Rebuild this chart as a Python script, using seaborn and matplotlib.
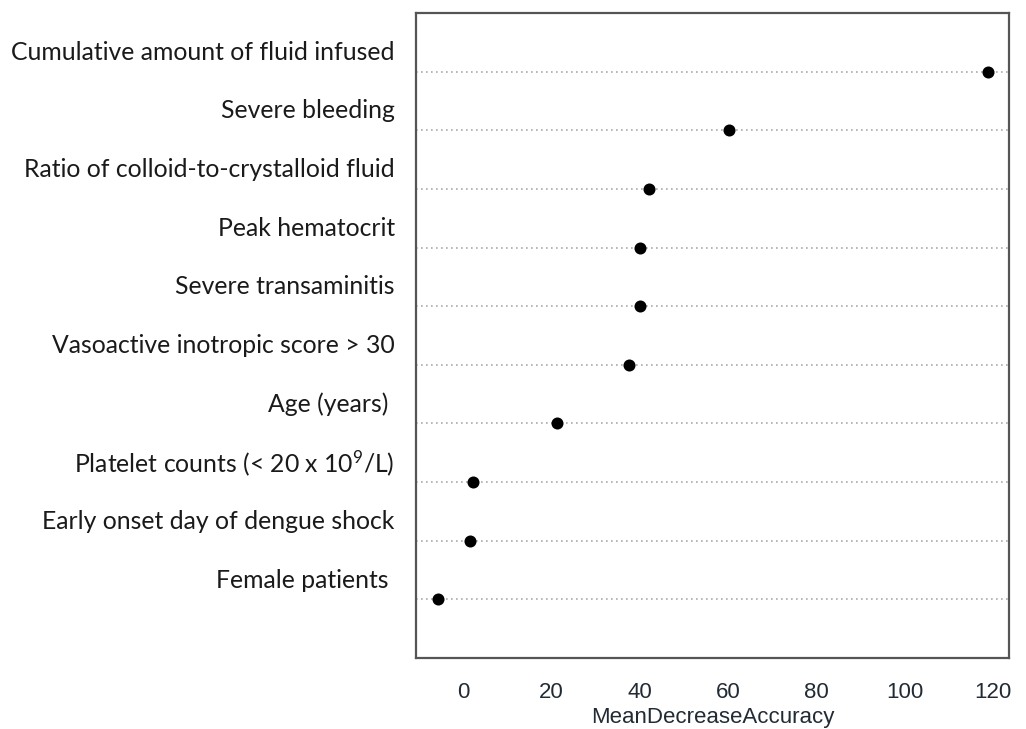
import numpy as np
import pandas as pd
import matplotlib
matplotlib.use("Agg")
import matplotlib.pyplot as plt
import seaborn as sns

# variable importance, top to bottom as in the figure
features = ["Cumulative amount of fluid infused",
            "Severe bleeding",
            "Ratio of colloid-to-crystalloid fluid",
            "Peak hematocrit",
            "Severe transaminitis",
            "Vasoactive inotropic score > 30",
            "Age (years) ",
            "Platelet counts (< 20 x 10$^9$/L)",
            "Early onset day of dengue shock",
            "Female patients "]
mda = [118.9, 60.2, 42.1, 40.1, 40.1, 37.7, 21.4, 2.2, 1.6, -5.7]
xticks = [0, 20, 40, 60, 80, 100, 120]

df = pd.DataFrame({"feature": features, "MeanDecreaseAccuracy": mda})
df["pos"] = np.arange(len(df), 0, -1)  # dotchart style: 10 at top ... 1 at bottom

sns.set_style("white")
plt.rcParams["font.family"] = ["Liberation Sans", "DejaVu Sans"]
plt.rcParams["mathtext.fontset"] = "custom"
plt.rcParams["mathtext.rm"] = "Lato"
plt.rcParams["mathtext.it"] = "Lato:italic"

fig = plt.figure(figsize=(10.26, 7.29), dpi=100)
ax = fig.add_axes([0.4055, 0.0974, 0.9834 - 0.4055, 0.9822 - 0.0974])

for p in df["pos"]:
    ax.axhline(p, color="#aaaaaa", linestyle=(0, (1, 2.0)), linewidth=1.2, zorder=1)

sns.scatterplot(data=df, x="MeanDecreaseAccuracy", y="pos", ax=ax,
                color="black", s=75, edgecolor="black", linewidth=0, zorder=3)

ax.set_xlim(-10.6, 123.6)
ax.set_ylim(0, len(df) + 1)
ax.set_xticks(xticks)
ax.set_xticklabels([str(t) for t in xticks], fontsize=16, color="#222a33")
ax.set_yticks([])
ax.set_ylabel("")
ax.set_xlabel("MeanDecreaseAccuracy", fontsize=16, color="#222a33", labelpad=3)
ax.tick_params(axis="x", direction="out", length=10, width=1.4, color="#333333", pad=7)
for sp in ax.spines.values():
    sp.set_color("#555555")
    sp.set_linewidth(1.6)

# row labels sit a little above their dotted line, right aligned left of the box
for lab, p in zip(df["feature"], df["pos"]):
    ax.text(-0.036, p + 0.33, lab, transform=ax.get_yaxis_transform(),
            ha="right", va="center", fontsize=17.8, family=["Lato", "DejaVu Sans"],
            color="#1a1a1a")

fig.savefig("out.png", dpi=100, facecolor="white")
